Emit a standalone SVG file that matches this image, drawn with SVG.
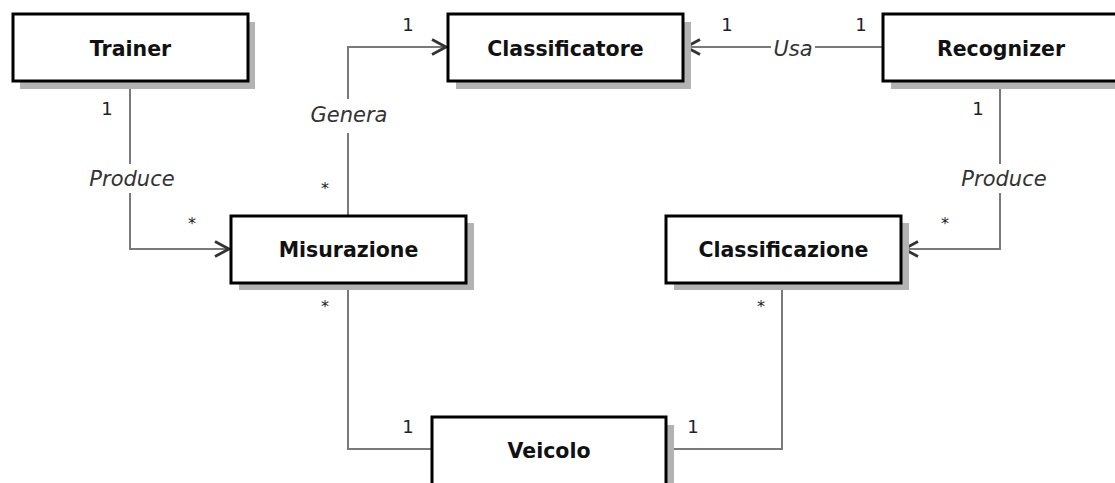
<svg xmlns="http://www.w3.org/2000/svg" width="1115" height="483" viewBox="0 0 1115 483">
<style>
.shadow{fill:#b3b3b3;stroke:none}
.box{fill:#ffffff;stroke:#000000;stroke-width:3}
.name{font-family:"DejaVu Sans",sans-serif;font-weight:bold;font-size:20.5px;fill:#111111;text-anchor:middle}
.conn{fill:none;stroke:#7a7a7a;stroke-width:2}
.head{fill:none;stroke:#333333;stroke-width:2.8}
.lbl{font-family:"DejaVu Sans",sans-serif;font-style:italic;font-size:21px;fill:#333333;text-anchor:middle}
.mult{font-family:"DejaVu Sans",sans-serif;font-size:18px;fill:#222222;text-anchor:middle}
.star{font-family:"DejaVu Sans",sans-serif;font-size:16px;fill:#222222;text-anchor:middle}
.bg{fill:#ffffff;stroke:none}
</style>
<rect width="1115" height="483" fill="#ffffff"/>
<g id="connectors">
  <path class="conn" d="M130,81 V249 H229"/>
  <path class="head" d="M215,241.5 L229,249 L215,256.5"/>
  <path class="conn" d="M348,216 V47 H446"/>
  <path class="head" d="M432,39.5 L446,47 L432,54.5"/>
  <path class="conn" d="M883,47 H686"/>
  <path class="head" d="M700,39.5 L686,47 L700,54.5"/>
  <path class="conn" d="M1000,81 V249 H904"/>
  <path class="head" d="M918,241.5 L904,249 L918,256.5"/>
  <path class="conn" d="M348,283 V449 H432"/>
  <path class="conn" d="M782,283 V449 H666"/>
  <rect class="bg" x="86" y="164" width="92" height="29"/>
  <text class="lbl" x="132" y="186">Produce</text>
  <rect class="bg" x="308" y="99" width="82" height="34"/>
  <text class="lbl" x="349" y="122">Genera</text>
  <rect class="bg" x="771" y="37" width="44" height="22"/>
  <text class="lbl" x="793" y="56">Usa</text>
  <rect class="bg" x="959" y="164" width="90" height="29"/>
  <text class="lbl" x="1004" y="186">Produce</text>
  <text class="mult" x="107" y="115">1</text>
  <text class="star" x="192" y="229">*</text>
  <text class="mult" x="408" y="31">1</text>
  <text class="star" x="325" y="194">*</text>
  <text class="mult" x="727" y="31">1</text>
  <text class="mult" x="861" y="31">1</text>
  <text class="mult" x="978" y="115">1</text>
  <text class="star" x="945" y="229">*</text>
  <text class="star" x="325" y="312">*</text>
  <text class="mult" x="408" y="433">1</text>
  <text class="star" x="761" y="312">*</text>
  <text class="mult" x="693" y="433">1</text>
</g>
<g id="trainer">
  <rect class="shadow" x="20" y="22" width="235" height="67"/>
  <rect class="box" x="13" y="14" width="235" height="67"/>
  <text class="name" x="130.5" y="56">Trainer</text>
</g>
<g id="classificatore">
  <rect class="shadow" x="456" y="22" width="235" height="67"/>
  <rect class="box" x="448" y="14" width="235" height="67"/>
  <text class="name" x="565.5" y="56">Classificatore</text>
</g>
<g id="recognizer">
  <rect class="shadow" x="891" y="22" width="235" height="67"/>
  <rect class="box" x="883" y="14" width="235" height="67"/>
  <text class="name" x="1001" y="56">Recognizer</text>
</g>
<g id="misurazione">
  <rect class="shadow" x="239" y="223" width="235" height="67"/>
  <rect class="box" x="231" y="216" width="235" height="67"/>
  <text class="name" x="348.5" y="257">Misurazione</text>
</g>
<g id="classificazione">
  <rect class="shadow" x="674" y="223" width="235" height="67"/>
  <rect class="box" x="666" y="216" width="235" height="67"/>
  <text class="name" x="783.5" y="257">Classificazione</text>
</g>
<g id="veicolo">
  <rect class="shadow" x="440" y="425" width="234" height="70"/>
  <rect class="box" x="432" y="417" width="234" height="72"/>
  <text class="name" x="549" y="458">Veicolo</text>
</g>
</svg>
